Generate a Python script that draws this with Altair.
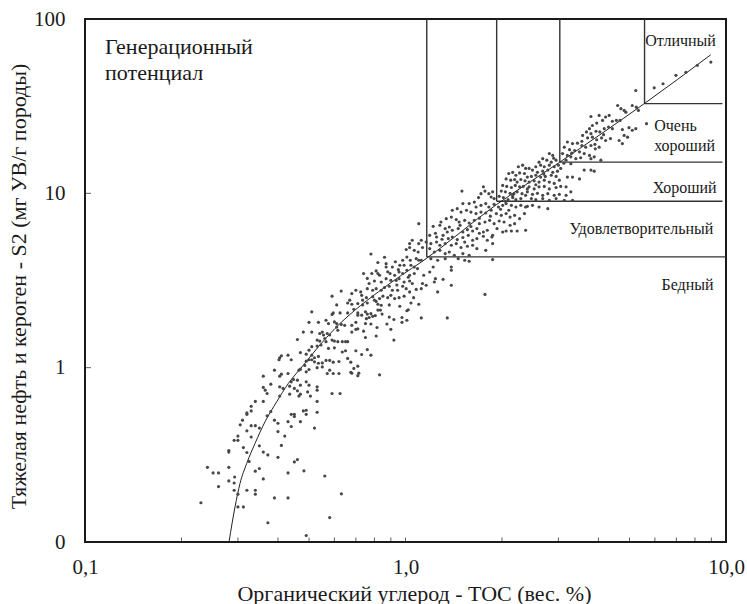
import altair as alt
import pandas as pd

# ---- scatter samples (TOC wt.%, S2 mg HC/g rock), grouped by area ----
tail_low = [
    (0.33, 0.60), (0.34, 0.64), (0.36, 0.64), (0.33, 0.565), (0.32, 0.55), (0.32, 0.54), (0.37, 0.53),
    (0.38, 0.56), (0.39, 0.50), (0.40, 0.48), (0.44, 0.54), (0.45, 0.54), (0.45, 0.524), (0.43, 0.49),
    (0.44, 0.46), (0.47, 0.49), (0.48, 0.565), (0.49, 0.57), (0.49, 0.54), (0.53, 0.64), (0.53, 0.555),
    (0.52, 0.45), (0.33, 0.465), (0.34, 0.465), (0.35, 0.45), (0.32, 0.434), (0.33, 0.40), (0.30, 0.405),
    (0.30, 0.383), (0.292, 0.383), (0.281, 0.335), (0.281, 0.328), (0.312, 0.348), (0.32, 0.326),
    (0.35, 0.356), (0.36, 0.328), (0.372, 0.316), (0.40, 0.43), (0.42, 0.405), (0.41, 0.358), (0.40, 0.306),
    (0.241, 0.268), (0.251, 0.249), (0.261, 0.249), (0.281, 0.268), (0.261, 0.208), (0.292, 0.218),
    (0.292, 0.198), (0.30, 0.188), (0.32, 0.198), (0.34, 0.198), (0.34, 0.188), (0.34, 0.255), (0.35, 0.264),
    (0.36, 0.23), (0.43, 0.249), (0.45, 0.288), (0.46, 0.297), (0.482, 0.256), (0.56, 0.239), (0.631, 0.189),
    (0.23, 0.168), (0.30, 0.159), (0.312, 0.159), (0.39, 0.179), (0.43, 0.179), (0.58, 0.138), (0.372, 0.129),
    (0.49, 0.109), (0.281, 0.224), (0.293, 0.236), (0.305, 0.47), (0.31, 0.50), (0.325, 0.29),
]
tail_mid = [
    (0.63, 2.75), (0.59, 2.57), (0.61, 2.29), (0.595, 2.06), (0.59, 2.02), (0.51, 2.09), (0.625, 2.06),
    (0.565, 1.87), (0.575, 1.79), (0.535, 1.82), (0.50, 1.82), (0.60, 1.83), (0.61, 1.79), (0.63, 1.77),
    (0.61, 1.71), (0.615, 1.64), (0.55, 1.60), (0.54, 1.57), (0.555, 1.54), (0.57, 1.57), (0.58, 1.54),
    (0.56, 1.47), (0.53, 1.44), (0.54, 1.42), (0.565, 1.41), (0.59, 1.44), (0.60, 1.42), (0.615, 1.41),
    (0.635, 1.41), (0.51, 1.60), (0.48, 1.60), (0.46, 1.45), (0.53, 1.33), (0.545, 1.35), (0.575, 1.29),
    (0.60, 1.30), (0.635, 1.23), (0.51, 1.32), (0.50, 1.26), (0.47, 1.22), (0.49, 1.195), (0.51, 1.18),
    (0.52, 1.14), (0.535, 1.16), (0.51, 1.11), (0.50, 1.11), (0.49, 1.09), (0.52, 1.08), (0.535, 1.06),
    (0.55, 1.065), (0.565, 1.10), (0.58, 1.10), (0.595, 1.075), (0.62, 1.085), (0.43, 1.18), (0.44, 1.11),
    (0.405, 1.14), (0.403, 1.11), (0.41, 1.17), (0.485, 1.03), (0.47, 0.98), (0.50, 0.976), (0.49, 0.946),
    (0.53, 1.0), (0.55, 1.01), (0.58, 0.968), (0.57, 0.926), (0.39, 0.968), (0.41, 0.918), (0.43, 0.926),
    (0.465, 0.968), (0.36, 0.894), (0.405, 0.894), (0.447, 0.856), (0.44, 0.829), (0.46, 0.848),
    (0.47, 0.794), (0.49, 0.829), (0.50, 0.794), (0.53, 0.776), (0.53, 0.743), (0.36, 0.77), (0.365, 0.743),
    (0.38, 0.804), (0.405, 0.776), (0.415, 0.76), (0.435, 0.783), (0.45, 0.76), (0.46, 0.736), (0.37, 0.711),
    (0.405, 0.687), (0.435, 0.705), (0.465, 0.687), (0.47, 0.705), (0.495, 0.726), (0.505, 0.687),
    (0.59, 0.711), (0.625, 0.711), (0.62, 0.926), (0.595, 0.926),
]
band_07_1 = [
    (0.66, 2.35), (0.68, 2.31), (0.71, 2.33), (0.735, 2.29), (0.76, 2.35), (0.81, 2.40), (0.82, 2.31),
    (0.84, 2.28), (0.89, 2.29), (0.96, 2.25), (1.04, 2.35), (1.1, 2.31), (0.66, 2.06), (0.69, 2.16),
    (0.71, 2.06), (0.71, 2.0), (0.73, 2.0), (0.75, 2.09), (0.76, 2.03), (0.78, 2.04), (0.755, 1.91),
    (0.77, 1.94), (0.79, 1.97), (0.805, 1.99), (0.82, 2.14), (0.835, 2.14), (0.845, 2.03), (0.89, 1.95),
    (0.92, 1.89), (0.975, 1.94), (1.01, 2.12), (1.02, 2.15), (1.01, 1.87), (0.975, 1.82), (1.12, 1.93),
    (1.35, 1.93), (0.646, 1.75), (0.68, 1.75), (0.70, 1.82), (0.71, 1.67), (0.70, 1.66), (0.68, 1.60),
    (0.74, 1.62), (0.75, 1.79), (0.78, 1.78), (0.815, 1.70), (0.875, 1.78), (0.90, 1.66), (0.81, 1.52),
    (0.75, 1.49), (0.92, 1.44), (0.65, 1.41), (0.66, 1.41), (0.65, 1.25), (0.70, 1.25), (0.73, 1.19),
    (0.76, 1.27), (0.78, 1.18), (0.66, 1.13), (0.675, 1.075), (0.69, 0.99), (0.71, 1.02), (0.675, 0.94),
    (0.68, 0.93), (0.715, 0.93), (0.71, 0.90), (0.83, 0.91),
]
band_08_11 = [
    (1.05, 5.38), (1.03, 5.15), (1.10, 5.15), (1.005, 4.76), (1.03, 4.89), (1.065, 4.71), (1.095, 4.61),
    (0.78, 4.49), (0.82, 4.01), (0.87, 3.95), (0.87, 3.78), (0.91, 3.78), (0.98, 4.13), (1.01, 4.31),
    (1.035, 4.13), (1.08, 4.22), (1.10, 4.13), (0.96, 3.87), (0.99, 3.87), (1.04, 3.87), (1.065, 3.78),
    (1.09, 3.70), (0.74, 3.47), (0.785, 3.47), (0.81, 3.59), (0.82, 3.47), (0.83, 3.39), (0.895, 3.47),
    (0.925, 3.39), (0.955, 3.54), (0.98, 3.47), (1.01, 3.62), (1.03, 3.39), (1.065, 3.47), (0.77, 3.04),
    (0.80, 3.14), (0.84, 3.10), (0.87, 3.24), (0.90, 3.17), (0.935, 3.17), (0.955, 3.24), (0.99, 3.10),
    (1.03, 3.14), (1.05, 3.04), (0.68, 2.66), (0.70, 2.78), (0.725, 2.72), (0.76, 2.84), (0.79, 2.78),
    (0.81, 2.84), (0.84, 2.78), (0.86, 2.88), (0.89, 2.93), (0.91, 2.78), (0.945, 2.78), (0.98, 2.93),
    (1.005, 2.84), (1.03, 2.72), (1.08, 2.81), (0.67, 2.44), (0.735, 2.44), (0.755, 2.52), (0.79, 2.55),
    (0.80, 2.44), (0.83, 2.49), (0.85, 2.57), (0.88, 2.52), (0.90, 2.60), (0.925, 2.49), (0.955, 2.52),
    (0.99, 2.57), (1.06, 2.52), (0.86, 4.3), (0.93, 4.05), (0.95, 3.65), (0.88, 3.55), (0.76, 3.25),
    (0.94, 2.98), (1.02, 3.3), (0.73, 2.6),
]
band_11_24 = [
    (2.25, 14.2), (2.32, 14.5), (2.37, 13.9), (2.1, 13.0), (2.16, 13.2), (2.21, 12.7), (2.27, 13.1),
    (2.35, 13.0), (2.4, 12.4), (2.06, 12.1), (2.13, 11.9), (2.19, 12.0), (2.23, 11.6), (2.29, 12.0),
    (2.36, 11.8), (2.01, 11.1), (2.07, 10.96), (2.14, 10.8), (2.2, 11.1), (2.27, 10.9), (2.33, 10.96),
    (2.4, 10.6), (1.99, 10.3), (2.05, 10.2), (2.12, 10.0), (2.18, 9.96), (2.23, 10.2), (2.31, 9.96),
    (2.37, 9.74), (1.96, 9.61), (2.02, 9.45), (2.09, 9.2), (2.16, 9.45), (2.21, 9.2), (2.29, 9.33),
    (1.5, 10.3), (1.75, 10.9), (1.77, 10.3), (1.72, 9.96), (1.82, 9.96), (1.87, 10.2), (1.85, 9.53),
    (1.89, 9.33), (1.69, 9.45), (1.64, 8.91), (1.58, 8.73), (1.51, 8.73), (1.66, 8.35), (1.72, 8.53),
    (1.78, 8.73), (1.82, 8.35), (1.89, 8.65), (1.95, 8.35), (2.01, 8.53), (2.06, 8.73), (2.14, 8.53),
    (2.21, 8.35), (2.29, 8.53), (2.37, 8.35), (1.4, 8.0), (1.45, 8.17), (1.49, 7.81), (1.55, 8.0),
    (1.6, 7.81), (1.66, 7.65), (1.72, 7.81), (1.78, 7.71), (1.85, 8.0), (1.92, 7.65), (1.99, 7.48),
    (2.06, 7.65), (2.12, 7.31), (2.19, 7.48), (2.27, 7.16), (2.35, 7.65), (1.29, 6.85), (1.34, 7.16),
    (1.39, 7.31), (1.44, 7.07), (1.47, 6.85), (1.53, 7.0), (1.58, 6.76), (1.64, 7.0), (1.7, 6.70),
    (1.77, 6.85), (1.83, 7.0), (1.89, 6.70), (1.96, 6.94), (2.03, 6.85), (2.12, 6.56), (2.19, 6.70),
    (1.1, 6.70), (1.22, 6.47), (1.28, 6.56), (1.33, 6.28), (1.37, 6.41), (1.4, 6.14), (1.46, 6.28),
    (1.51, 6.0), (1.56, 6.19), (1.62, 6.08), (1.67, 6.28), (1.75, 6.0), (1.8, 6.14), (1.87, 5.74),
    (1.93, 6.28), (2.01, 6.0), (2.06, 6.08), (2.14, 6.08), (2.23, 6.08), (2.37, 6.14), (1.19, 5.74),
    (1.25, 5.62), (1.31, 5.74), (1.36, 5.5), (1.4, 5.62), (1.45, 5.43), (1.51, 5.58), (1.57, 5.74),
    (1.62, 5.38), (1.67, 5.5), (1.75, 5.67), (1.8, 5.38), (1.86, 5.62), (1.12, 5.38), (1.16, 5.26),
    (1.2, 5.15), (1.25, 5.26), (1.28, 5.04), (1.33, 5.15), (1.39, 5.04), (1.44, 5.15), (1.49, 4.89),
    (1.56, 4.97), (1.62, 5.04), (1.67, 4.82), (1.78, 4.71), (1.87, 5.15), (1.13, 4.89), (1.19, 4.82),
    (1.23, 4.61), (1.28, 4.71), (1.33, 4.51), (1.37, 4.61), (1.42, 4.41), (1.51, 4.51), (1.58, 4.41),
    (1.12, 4.13), (1.2, 4.22), (1.26, 4.13), (1.33, 4.22), (1.46, 4.22), (1.53, 4.13), (1.58, 4.08),
    (1.87, 4.17), (1.39, 3.78), (1.39, 3.62), (1.22, 3.78), (1.19, 3.54), (1.14, 3.39), (1.24, 3.24),
    (1.31, 3.21), (1.23, 3.10), (1.16, 2.97), (1.39, 2.97), (1.12, 2.84), (1.26, 2.72), (1.77, 2.63),
    (1.13, 3.04), (1.24, 5.9), (1.35, 6.0), (1.48, 6.55), (1.6, 6.45), (1.7, 7.2), (1.84, 7.4),
    (1.98, 8.1), (2.1, 8.0), (1.3, 5.45), (1.53, 5.25), (1.7, 5.9), (2.16, 9.7), (2.05, 9.0),
]
band_24_45 = [
    (3.79, 27.6), (4.02, 28.0), (4.21, 27.4), (4.32, 28.0), (4.42, 25.9), (4.55, 26.2), (4.12, 26.2),
    (3.95, 25.3), (3.83, 24.5), (3.75, 23.5), (3.67, 22.5), (3.79, 22.0), (3.93, 22.7), (4.04, 22.5),
    (4.17, 23.5), (4.3, 24.0), (4.42, 23.5), (3.57, 21.5), (3.7, 20.8), (3.83, 21.0), (3.95, 20.3),
    (4.09, 20.8), (4.21, 20.1), (4.36, 20.6), (3.2, 19.7), (3.32, 19.3), (3.44, 19.4), (3.55, 18.8),
    (3.65, 18.4), (3.79, 18.8), (3.91, 18.0), (4.02, 18.4), (3.13, 18.4), (3.25, 17.8), (3.37, 17.6),
    (3.49, 17.3), (3.61, 16.9), (3.75, 16.5), (3.88, 16.2), (3.09, 16.9), (3.2, 16.5), (3.28, 16.2),
    (3.4, 15.8), (3.52, 16.0), (3.79, 15.8), (4.07, 15.5), (3.61, 13.6), (3.79, 13.6), (3.88, 13.4),
    (3.28, 14.8), (3.17, 15.5), (2.81, 16.9), (2.88, 16.5), (2.68, 15.8), (2.76, 15.5), (2.85, 15.1),
    (2.95, 15.5), (2.61, 15.1), (2.55, 14.2), (2.64, 14.5), (2.71, 14.2), (2.81, 14.5), (2.91, 14.2),
    (3.0, 14.5), (2.43, 13.9), (2.49, 13.6), (2.58, 13.2), (2.68, 13.4), (2.78, 13.6), (2.88, 13.2),
    (2.98, 13.4), (2.47, 12.5), (2.55, 12.7), (2.64, 12.4), (2.73, 12.5), (2.85, 12.7), (2.95, 12.5),
    (2.43, 11.6), (2.52, 11.8), (2.61, 11.6), (2.71, 11.9), (2.81, 11.6), (2.91, 11.4), (3.02, 11.9),
    (3.2, 12.4), (3.32, 12.4), (3.49, 12.1), (2.43, 10.9), (2.52, 10.6), (2.61, 10.9), (2.71, 10.96),
    (2.81, 10.6), (2.95, 10.8), (3.05, 10.96), (3.17, 10.9), (2.4, 10.2), (2.49, 9.87), (2.58, 10.0),
    (2.68, 9.74), (2.78, 9.96), (2.91, 9.74), (3.02, 9.87), (3.17, 9.74), (3.28, 10.2), (2.47, 9.33),
    (2.55, 9.2), (2.68, 9.33), (2.81, 9.12), (2.95, 9.33), (3.13, 9.12), (3.32, 9.12), (2.4, 8.42),
    (2.49, 8.53), (2.61, 8.35), (2.78, 8.17), (3.05, 13.9), (3.12, 14.9), (2.9, 15.9), (3.3, 17.0),
    (3.55, 19.9), (3.9, 19.1), (4.15, 21.7), (2.7, 12.9), (2.55, 11.2),
]
band_high = [
    (8.97, 56.6), (8.14, 54.2), (7.5, 49.5), (6.98, 47.5), (6.36, 42.5), (5.97, 40.3), (5.23, 38.9),
    (5.1, 31.9), (5.25, 31.2), (5.33, 29.9), (4.59, 31.9), (4.7, 30.6), (4.81, 29.9), (4.87, 29.2),
    (4.67, 26.2), (4.75, 23.2), (4.98, 23.8), (4.81, 21.5), (4.93, 21.0), (4.75, 19.3), (4.64, 20.1),
    (5.23, 23.5), (5.65, 25.1), (5.1, 23.0),
]

# ---- trend curve ----
curve_toc = [0.2814, 0.2938, 0.3046, 0.3196, 0.3393, 0.3644, 0.3963, 0.431, 0.480, 0.5346, 0.6022,
             0.6951, 0.8222, 0.9717, 1.1215, 1.92, 3.03, 5.56, 8.96]
curve_s2 = [0.1, 0.159, 0.217, 0.2825, 0.368, 0.489, 0.637, 0.812, 1.033, 1.316, 1.677,
            2.135, 2.719, 3.389, 4.04, 8.6, 15.1, 32.7, 62.3]

# ---- potential class boundaries ----
class_toc = [1.165, 1.925, 3.03, 5.57]
class_s2 = [4.32, 9.0, 15.1, 32.7]
class_end = [10.0, 9.75, 9.75, 9.75]

# ---- class labels ----
right_labels = ["Бедный", "Удовлетворительный", "Хороший", "Отличный"]
right_label_toc = [9.15, 9.13, 9.35, 9.3]
right_label_s2 = [2.97, 6.22, 10.8, 74.3]
left_labels = ["Очень", "хороший", "Генерационный", "потенциал"]
left_label_toc = [5.97, 5.97, 0.1155, 0.1155]
left_label_s2 = [24.2, 18.8, 68.7, 48.7]
left_label_size = [16, 16, 22, 22]

x_minor_ticks = [0.2, 0.3, 0.4, 0.5, 0.6, 0.7, 0.8, 0.9, 1, 2, 3, 4, 5, 6, 7, 8, 9]
y_minor_ticks = [1, 10]

FONT = "Liberation Serif"
INK = "#1a1a1a"

pts = pd.DataFrame(
    tail_low + tail_mid + band_07_1 + band_08_11 + band_11_24 + band_24_45 + band_high,
    columns=["TOC", "S2"],
)
curve_df = pd.DataFrame({"TOC": curve_toc, "S2": curve_s2})
cls = pd.DataFrame({"TOC": class_toc, "S2": class_s2, "END": class_end, "TOP": [100] * 4})
rlab = pd.DataFrame({"TOC": right_label_toc, "S2": right_label_s2, "t": right_labels})
llab = pd.DataFrame({"TOC": left_label_toc, "S2": left_label_s2, "t": left_labels, "fs": left_label_size})
xt = pd.DataFrame({"TOC": x_minor_ticks, "S2": [0.1] * len(x_minor_ticks)})
yt = pd.DataFrame({"S2": y_minor_ticks, "TOC": [0.1] * len(y_minor_ticks)})

xscale = alt.Scale(type="log", domain=[0.1, 10], nice=False)
yscale = alt.Scale(type="log", domain=[0.1, 100], nice=False)

xaxis = alt.Axis(
    values=[0.1, 1, 10],
    labelExpr="datum.value < 0.5 ? '0,1' : (datum.value < 5 ? '1,0' : '10,0')",
    grid=False, ticks=False, domain=False, tickSize=0,
    labelFont=FONT, labelFontSize=21, labelColor=INK, labelPadding=14,
    labelFlush=False, labelOverlap=False, labelBound=False,
    title="Органический углерод - TOC (вес. %)",
    titleFont=FONT, titleFontSize=22, titleFontWeight="normal", titleColor=INK,
    titleX=329, titleY=51, titleBaseline="middle",
)
yaxis = alt.Axis(
    values=[0.1, 1, 10, 100],
    labelExpr="datum.value < 0.5 ? '0' : format(datum.value, 'd')",
    grid=False, ticks=False, domain=False, tickSize=0,
    labelFont=FONT, labelFontSize=21, labelColor=INK, labelPadding=20,
    labelOverlap=False, labelFlush=False,
    title="Тяжелая нефть и кероген - S2 (мг УВ/г породы)",
    titleFont=FONT, titleFontSize=22, titleFontWeight="normal", titleColor=INK,
    titleX=-67, titleY=267, titleAngle=270, titleBaseline="middle",
)

X = alt.X("TOC:Q", scale=xscale, axis=xaxis)
Y = alt.Y("S2:Q", scale=yscale, axis=yaxis)

vlines = alt.Chart(cls).mark_rule(color="#333", strokeWidth=1.4).encode(x=X, y=Y, y2="TOP:Q")
hlines = alt.Chart(cls).mark_rule(color="#333", strokeWidth=1.4).encode(x=X, x2="END:Q", y=Y)

curve = alt.Chart(curve_df).mark_line(
    interpolate="monotone", color="#222", strokeWidth=1, clip=True
).encode(x=X, y=Y, order="TOC:Q")

points = alt.Chart(pts).mark_circle(size=10, color="#474747", opacity=1, clip=True).encode(x=X, y=Y)

xticks = alt.Chart(xt).mark_tick(orient="vertical", size=9, thickness=1, color=INK, clip=True).encode(x=X, y=Y)
yticks = alt.Chart(yt).mark_tick(orient="horizontal", size=12, thickness=1, color=INK, clip=True).encode(x=X, y=Y)

rtext = alt.Chart(rlab).mark_text(
    align="right", baseline="middle", font=FONT, fontSize=16, color=INK
).encode(x=X, y=Y, text="t:N")
ltext = alt.Chart(llab).mark_text(
    align="left", baseline="middle", font=FONT, color=INK
).encode(x=X, y=Y, text="t:N", size=alt.Size("fs:Q", scale=None, legend=None))

chart = alt.layer(vlines, hlines, curve, points, xticks, yticks, rtext, ltext).properties(
    width=641, height=523,
    autosize="none",
    padding={"left": 85, "top": 19, "right": 21, "bottom": 62},
    background="white",
).configure_view(stroke=INK, strokeWidth=2)

chart.save("out.html", embed_options={"renderer": "svg", "actions": False})
